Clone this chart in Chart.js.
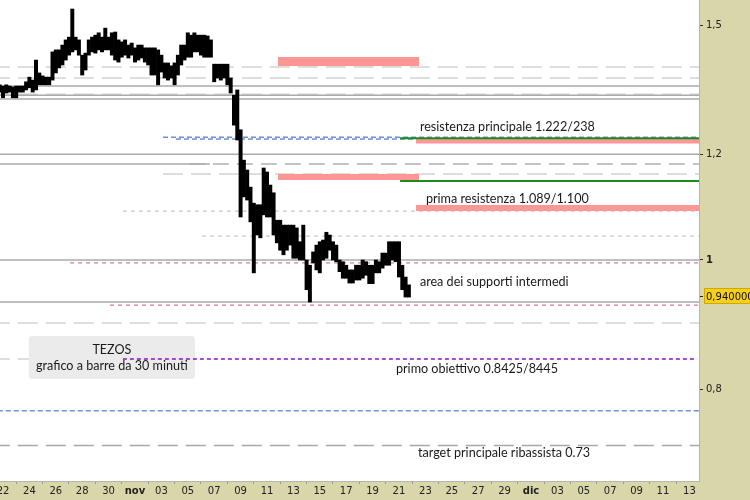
<!DOCTYPE html>
<html><head><meta charset="utf-8">
<script src="https://cdn.jsdelivr.net/npm/chart.js@4.4.0/dist/chart.umd.min.js"></script>
<style>html,body{margin:0;padding:0;background:#fff}#wrap{width:750px;height:500px;position:relative}</style>
</head><body><div id="wrap"><canvas id="c" width="750" height="500"></canvas></div>
<script>
// ---- time helper: day index from 22 Oct 2022 ----
const ORIGIN = Date.UTC(2022, 9, 22);
function dayOf(s){ return (Date.parse(s + ':00Z') - ORIGIN) / 864e5; }

// ---- price bars (6-hour high/low) ----
const barStart = '2022-10-21T18:00';
const barStepHours = 6;
const barHighs = [1.353,1.350,1.353,1.350,1.348,1.350,1.350,1.350,1.360,1.371,
  1.364,1.412,1.381,1.374,1.371,1.371,1.432,1.437,1.437,1.449,
  1.462,1.469,1.542,1.469,1.462,1.424,1.429,1.462,1.469,1.474,
  1.480,1.469,1.492,1.469,1.480,1.482,1.462,1.457,1.462,1.449,
  1.454,1.442,1.449,1.449,1.442,1.442,1.442,1.442,1.437,1.424,
  1.405,1.405,1.398,1.405,1.424,1.449,1.449,1.480,1.474,1.480,
  1.474,1.474,1.474,1.472,1.462,1.402,1.402,1.402,1.402,1.402,
  1.369,1.329,1.341,1.252,1.188,1.168,1.134,1.103,1.100,1.100,
  1.172,1.164,1.138,1.123,1.071,1.071,1.062,1.062,1.062,1.062,
  1.057,1.032,1.062,1.000,0.991,1.014,1.026,1.032,1.035,1.049,
  1.044,1.032,1.026,1.000,0.997,0.991,0.983,0.983,0.991,0.991,
  1.000,0.997,0.991,0.991,1.000,0.997,1.012,1.012,1.032,1.032,
  1.032,1.032,0.991,0.971,0.958];
const barLows = [1.336,1.323,1.334,1.336,1.323,1.323,1.336,1.336,1.341,1.346,
  1.336,1.341,1.353,1.353,1.353,1.353,1.364,1.381,1.393,1.400,
  1.412,1.424,1.432,1.437,1.424,1.376,1.388,1.424,1.432,1.429,
  1.437,1.432,1.437,1.437,1.424,1.412,1.407,1.419,1.424,1.417,
  1.424,1.407,1.412,1.417,1.407,1.400,1.376,1.376,1.353,1.383,
  1.369,1.364,1.369,1.353,1.376,1.400,1.412,1.419,1.419,1.432,
  1.432,1.424,1.419,1.419,1.419,1.360,1.369,1.364,1.369,1.353,
  1.334,1.262,1.230,1.077,1.115,1.109,1.068,0.978,1.044,1.039,
  1.081,1.077,1.077,1.044,1.030,1.017,1.009,1.017,1.026,1.003,
  1.003,1.000,1.000,0.950,0.930,0.995,0.983,0.978,1.000,1.003,
  1.017,1.000,0.997,0.980,0.969,0.969,0.961,0.961,0.966,0.966,
  0.969,0.974,0.960,0.960,0.978,0.978,0.986,0.991,0.991,1.000,
  0.997,0.971,0.950,0.938,0.938];
const lastPrice = 0.94;

// ---- axes ----
const xTickLabels = ['22','24','26','28','30','nov','03','05','07','09','11','13','15','17','19','21','23','25','27','29','dic','03','05','07','09','11','13'];
const xTickStepDays = 2;
const yTickValues = [1.5, 1.2, 1, 0.8];
const yTickLabels = ['1,5','1,2','1','0,8'];
const viewFrom = '2022-10-21T18:33';
const viewTo = '2022-12-13T17:30';
const priceMin = 0.6829, priceMax = 1.5662;

// ---- level lines: price, from, to ----
const CHART_START = '2022-10-21T00:00', CHART_END = '2022-12-15T00:00';
const solidLevels = [1.350, 1.329, 1.320, 1.200, 1.180, 1.000, 0.930];
const solidFrom   = [CHART_START, CHART_START, CHART_START, CHART_START, CHART_START, CHART_START, CHART_START];
const solidTo     = [CHART_END, CHART_END, CHART_END, CHART_END, '2022-11-06T16:00', CHART_END, CHART_END];

const longDashLevels = [1.395, 1.369, 1.331, 1.160, 0.897, 0.843];
const longDashFrom   = [CHART_START, CHART_START, CHART_START, '2022-11-03T03:00', CHART_START, CHART_START];
const longDashTo     = [CHART_END, CHART_END, CHART_END, CHART_END, CHART_END, '2022-10-23T23:00'];

const shortDashLevels = [1.088, 1.042];
const shortDashFrom   = ['2022-10-31T02:00', '2022-11-06T02:00'];

const midDashLevels = [1.180];
const midDashFrom   = ['2022-11-05T02:00'];

const targetLevels = [0.726];

const blueLevels = [1.236, 1.232, 0.771];
const blueFrom   = ['2022-11-03T03:00', '2022-11-04T02:30', CHART_START];

const pinkLevels = [0.995, 0.925];
const pinkFrom   = ['2022-10-27T02:00', '2022-10-30T02:30'];

const purpleLevels = [0.843];
const purpleFrom   = ['2022-10-31T02:00'];
const purpleTo     = ['2022-12-13T14:00'];

const greenLevels = [1.234, 1.146];
const greenFrom   = ['2022-11-21T02:00', '2022-11-21T02:00'];

// ---- resistance zones: top, bottom, from, to ----
const zoneTops    = [1.4195, 1.160, 1.2337, 1.0996];
const zoneBottoms = [1.3977, 1.148, 1.2225, 1.0880];
const zoneFrom    = ['2022-11-11T20:00', '2022-11-11T20:00', '2022-11-22T07:00', '2022-11-22T07:00'];
const zoneTo      = ['2022-11-22T12:30', '2022-11-22T12:30', CHART_END, CHART_END];

// ---- notes ----
const noteTexts  = ['resistenza principale 1.222/238', 'prima resistenza 1.089/1.100', 'area dei supporti intermedi', 'primo obiettivo 0.8425/8445', 'target principale ribassista 0.73'];
const noteDates  = ['2022-11-22T14:00', '2022-11-23T01:00', '2022-11-22T14:00', '2022-11-20T18:30', '2022-11-22T10:30'];
const notePrices = [1.258, 1.111, 0.963, 0.8285, 0.7168];
const boxLines = ['TEZOS', 'grafico a barre da 30 minuti'];
const boxFrom = '2022-10-23T23:00', boxTo = '2022-11-05T13:00';
const boxTop = 0.877, boxBottom = 0.8144;

// ---- build datasets ----
const datasets = [];
const startDay = dayOf(barStart);
datasets.push({
  type: 'bar', order: 0,
  data: barHighs.map((h, i) => ({ x: startDay + i * barStepHours / 24, y: [barLows[i], h] })),
  backgroundColor: '#000', borderWidth: 0,
  barPercentage: 1, categoryPercentage: 1
});
function addLines(levels, from, to, style, order){
  levels.forEach((v, i) => {
    datasets.push(Object.assign({
      type: 'line', order: order,
      data: [{x: dayOf(from ? from[i] : CHART_START), y: v}, {x: dayOf(to ? to[i] : CHART_END), y: v}],
      pointRadius: 0, fill: false, tension: 0
    }, style));
  });
}
addLines(longDashLevels, longDashFrom, longDashTo, {borderColor:'#d4d4d4', borderWidth:1.5, borderDash:[20,8]}, 6);
addLines(shortDashLevels, shortDashFrom, null, {borderColor:'#d2d2d2', borderWidth:1.5, borderDash:[4,4]}, 6);
addLines(midDashLevels, midDashFrom, null, {borderColor:'#c4c4c4', borderWidth:2, borderDash:[16,8]}, 6);
addLines(targetLevels, null, null, {borderColor:'#a8a8a8', borderWidth:1.5, borderDash:[20,8]}, 6);
addLines(blueLevels, blueFrom, null, {borderColor:'#6b8fe0', borderWidth:1.5, borderDash:[5,3]}, 6);
addLines(pinkLevels, pinkFrom, null, {borderColor:'#e38bb3', borderWidth:1.5, borderDash:[4,4]}, 6);
addLines(purpleLevels, purpleFrom, purpleTo, {borderColor:'#8a12c6', borderWidth:1.5, borderDash:[4,3]}, 6);
zoneTops.forEach((t, i) => {
  datasets.push({
    type: 'line', order: 4,
    data: [{x: dayOf(zoneFrom[i]), y: t}, {x: dayOf(zoneTo[i]), y: t}],
    pointRadius: 0, borderWidth: 0, borderColor: 'rgba(0,0,0,0)',
    backgroundColor: '#ff9696', fill: {value: zoneBottoms[i]}
  });
});
addLines(solidLevels, solidFrom, solidTo, {borderColor:'#ababab', borderWidth:1.5}, 2);
addLines(greenLevels, greenFrom, null, {borderColor:'#1b8c1b', borderWidth:2}, 2);

const FONT_NOTE = '12.6px Lato';
const bgPlugin = {
  id: 'bg',
  beforeDraw(chart){
    const {ctx, chartArea: a} = chart;
    ctx.save();
    ctx.fillStyle = '#d9d6aa';
    ctx.fillRect(0, 0, chart.width, chart.height);
    ctx.fillStyle = '#ffffff';
    ctx.fillRect(a.left, a.top, a.right - a.left, a.bottom - a.top);
    ctx.restore();
  },
  beforeDatasetsDraw(chart){
    const {ctx, scales: {x, y}} = chart;
    const x0 = x.getPixelForValue(dayOf(boxFrom)), x1 = x.getPixelForValue(dayOf(boxTo));
    const y0 = y.getPixelForValue(boxTop), y1 = y.getPixelForValue(boxBottom);
    ctx.save();
    ctx.fillStyle = '#ebebeb';
    ctx.beginPath();
    ctx.roundRect(x0, y0, x1 - x0, y1 - y0, 3);
    ctx.fill();
    ctx.fillStyle = '#1a1a1a';
    ctx.font = FONT_NOTE;
    ctx.textAlign = 'center';
    ctx.textBaseline = 'middle';
    const cx = (x0 + x1) / 2;
    ctx.fillText(boxLines[0], cx, y0 + 14);
    ctx.fillText(boxLines[1], cx, y0 + 30);
    ctx.restore();
  },
  afterDatasetsDraw(chart){
    const {ctx, scales: {x, y}} = chart;
    ctx.save();
    ctx.fillStyle = '#1a1a1a';
    ctx.font = FONT_NOTE;
    ctx.textAlign = 'left';
    ctx.textBaseline = 'middle';
    noteTexts.forEach((t, i) => {
      ctx.fillText(t, x.getPixelForValue(dayOf(noteDates[i])), y.getPixelForValue(notePrices[i]));
    });
    ctx.restore();
  },
  afterDraw(chart){
    const {ctx, chartArea: a, scales: {y}} = chart;
    const py = Math.round(y.getPixelForValue(lastPrice));
    ctx.save();
    ctx.strokeStyle = '#222';
    ctx.lineWidth = 1;
    ctx.beginPath(); ctx.moveTo(a.right + 1, py + 0.5); ctx.lineTo(a.right + 4, py + 0.5); ctx.stroke();
    ctx.fillStyle = '#f6cf1c';
    ctx.fillRect(a.right + 5, py - 8, chart.width - a.right - 5, 16);
    ctx.strokeStyle = '#d0a800';
    ctx.strokeRect(a.right + 5.5, py - 7.5, chart.width - a.right - 5, 15);
    ctx.fillStyle = '#111';
    ctx.font = '10px "DejaVu Sans"';
    ctx.textBaseline = 'middle';
    ctx.textAlign = 'left';
    ctx.fillText(lastPrice.toFixed(6).replace('.', ','), a.right + 7, py + 1);
    ctx.restore();
  }
};

new Chart(document.getElementById('c'), {
  type: 'bar',
  data: { datasets },
  plugins: [bgPlugin],
  options: {
    responsive: false, animation: false,
    layout: { padding: 0 },
    plugins: { legend: {display: false}, tooltip: {enabled: false} },
    scales: {
      x: {
        type: 'linear', min: dayOf(viewFrom), max: dayOf(viewTo), bounds: 'data', offset: false,
        afterBuildTicks(s){ s.ticks = xTickLabels.map((l, i) => ({value: i * xTickStepDays})); },
        afterFit(s){ s.height = 19; s.paddingLeft = 0; s.paddingRight = 0; },
        grid: { drawOnChartArea: false, drawTicks: true, tickLength: 3, color: '#9a9a9a' },
        border: { display: true, color: '#b5b5b5' },
        ticks: {
          autoSkip: false, maxRotation: 0, padding: 1, color: '#222',
          font: (c) => ({ family: 'DejaVu Sans', size: 10, weight: (c.tick && /[a-z]/.test(xTickLabels[Math.round(c.tick.value / xTickStepDays)])) ? 'bold' : 'normal' }),
          callback: (v) => xTickLabels[Math.round(v / xTickStepDays)]
        }
      },
      y: {
        type: 'logarithmic', position: 'right', min: priceMin, max: priceMax, bounds: 'data',
        afterBuildTicks(s){ s.ticks = yTickValues.map(v => ({value: v})); },
        afterFit(s){ s.width = 51; s.paddingTop = 0; s.paddingBottom = 0; },
        grid: { drawOnChartArea: false, drawTicks: true, tickLength: 4, color: '#333' },
        border: { display: true, color: '#b5b5b5' },
        ticks: {
          autoSkip: false, padding: 3, color: '#222',
          font: (c) => ({ family: 'DejaVu Sans', size: 10, weight: (c.tick && c.tick.value === 1) ? 'bold' : 'normal' }),
          callback: (v) => yTickLabels[yTickValues.indexOf(v)]
        }
      }
    }
  }
});
</script>
</body></html>
